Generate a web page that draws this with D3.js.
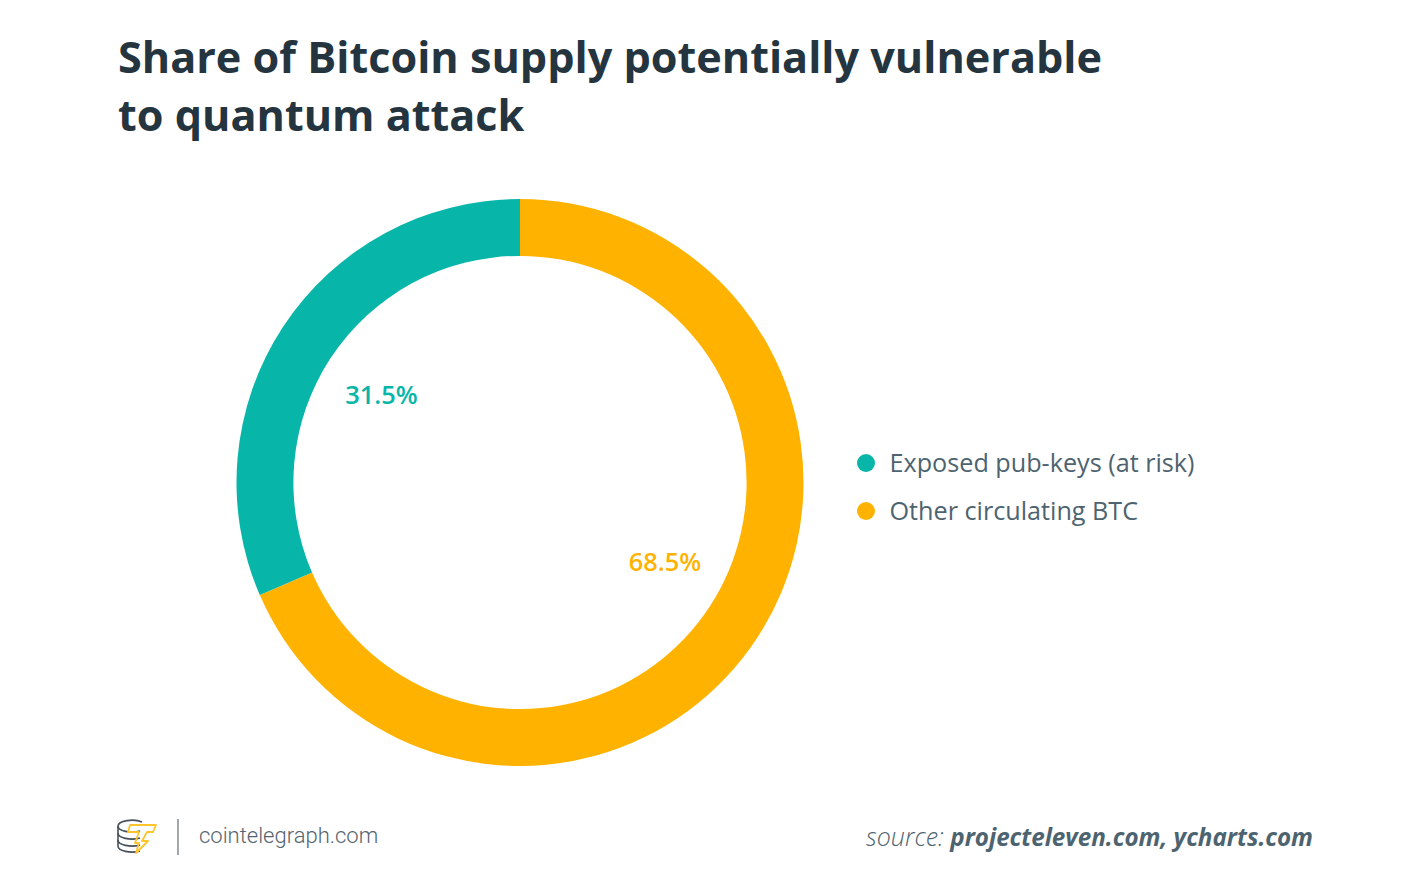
<!DOCTYPE html>
<html lang="en">
<head>
<meta charset="UTF-8">
<script src="https://cdnjs.cloudflare.com/ajax/libs/d3/7.8.5/d3.min.js"></script>
<style>
  html, body { margin: 0; padding: 0; background: #fff; }
  svg { display: block; }
  text { font-family: "Open Sans", sans-serif; }
</style>
</head>
<body>
<script>
var categories = ["Other circulating BTC", "Exposed pub-keys (at risk)"];
var shares = [68.5, 31.5];
var colors = ["#ffb300", "#08b6a9"];
var legendOrder = [1, 0];
var titleLines = ["Share of Bitcoin supply potentially vulnerable", "to quantum attack"];

var svg = d3.select("body").append("svg")
    .attr("width", 1428)
    .attr("height", 888);

svg.selectAll("text.title")
    .data(titleLines)
    .enter().append("text")
    .attr("class", "title")
    .attr("x", 118)
    .attr("y", function (d, i) { return 73 + i * 58; })
    .attr("font-size", 43.2)
    .attr("font-weight", 700)
    .attr("fill", "#253540")
    .text(function (d) { return d; });

// donut, orange first going clockwise from 12 o'clock
var pie = d3.pie().sort(null);
var arc = d3.arc().innerRadius(226.6).outerRadius(283.5);

var donut = svg.append("g").attr("transform", "translate(520,482.5)");

donut.selectAll("path")
    .data(pie(shares))
    .enter().append("path")
    .attr("d", arc)
    .attr("fill", function (d, i) { return colors[i]; });

var labelPos = [[145, 80], [-138.5, -87.5]];
donut.selectAll("text")
    .data(shares)
    .enter().append("text")
    .attr("x", function (d, i) { return labelPos[i][0]; })
    .attr("y", function (d, i) { return labelPos[i][1]; })
    .attr("dy", "0.35em")
    .attr("text-anchor", "middle")
    .attr("font-size", 25.4)
    .attr("font-weight", 600)
    .attr("fill", function (d, i) { return colors[i]; })
    .text(function (d) { return d3.format(".1f")(d) + "%"; });

var legend = svg.selectAll("g.legend")
    .data(legendOrder)
    .enter().append("g")
    .attr("class", "legend")
    .attr("transform", function (d, i) { return "translate(866," + (463 + i * 48) + ")"; });

legend.append("circle")
    .attr("r", 9)
    .attr("fill", function (d) { return colors[d]; });

legend.append("text")
    .attr("x", 23.5)
    .attr("dy", "0.35em")
    .attr("font-size", 25.2)
    .attr("fill", "#4d6470")
    .text(function (d) { return categories[d]; });

// logo
var logo = svg.append("g")
    .attr("fill", "none")
    .attr("stroke", "#46505a")
    .attr("stroke-width", 1.6);
[826, 833, 840, 846].forEach(function (y) {
    logo.append("path").attr("d", "M118," + y + "a14,6 0 0 0 22,5");
});
logo.append("path").attr("d", "M118,826a14,6 0 0 1 24,-4M118,826v20");
logo.append("path")
    .attr("stroke", "#fdc52c")
    .attr("stroke-width", 1.8)
    .attr("stroke-linejoin", "round")
    .attr("d", "M130,825H156L153,832H147L142,841H148L136,853L139,843H135L139,832H128Z");

svg.append("line")
    .attr("x1", 178).attr("x2", 178)
    .attr("y1", 819).attr("y2", 855)
    .attr("stroke", "#8a9298")
    .attr("stroke-width", 1.6);

svg.append("text")
    .attr("x", 199)
    .attr("y", 843)
    .style("font-family", "Roboto")
    .attr("font-size", 22)
    .attr("font-weight", 300)
    .attr("fill", "#56646e")
    .text("cointelegraph.com");

var source = svg.append("text")
    .attr("x", 1313)
    .attr("y", 846)
    .attr("text-anchor", "end")
    .attr("font-style", "italic")
    .attr("fill", "#4d6470");
source.append("tspan").attr("font-size", 25).attr("font-weight", 300).text("source: ");
source.append("tspan").attr("font-size", 24.2).attr("font-weight", 700).text("projecteleven.com, ycharts.com");
</script>
</body>
</html>
